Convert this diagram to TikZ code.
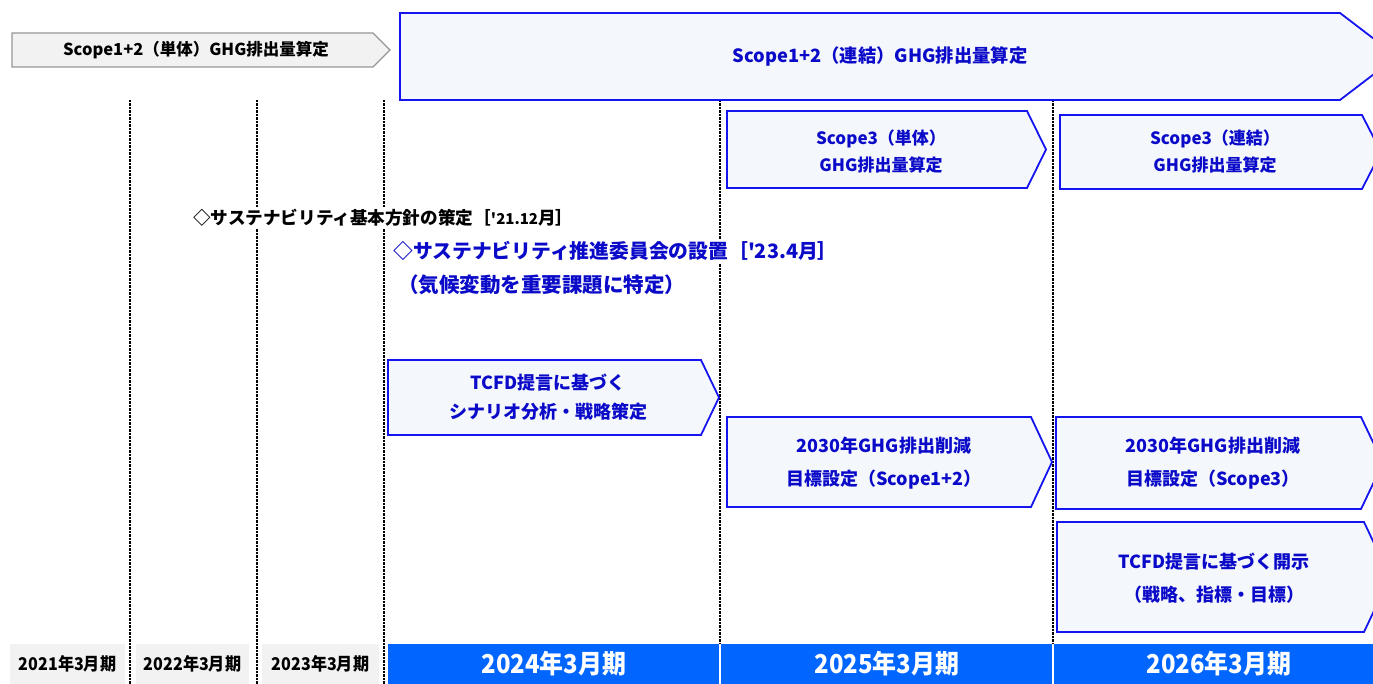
\documentclass[tikz,border=0pt]{standalone}
\usepackage{fontspec}
\newfontfamily\jp{Noto Sans CJK JP}
\newfontfamily\yearfont{Noto Sans CJK JP}[FakeStretch=0.92]
\definecolor{boxfill}{HTML}{F4F7FB}
\definecolor{boxblue}{RGB}{20,20,240}
\definecolor{txtblue}{RGB}{10,10,200}
\definecolor{grayfill}{HTML}{F2F2F2}
\definecolor{graydraw}{RGB}{150,150,150}
\definecolor{barblue}{RGB}{0,102,255}
\newcommand\chev[6]{\draw[#6] (#1,#2) -- (#3,#2) -- (#5,{(#2+#4)/2}) -- (#3,#4) -- (#1,#4) -- cycle;}
\begin{document}
\begin{tikzpicture}[x=1pt,y=-1pt,
  bx/.style={draw=boxblue,line width=1.8pt,fill=boxfill,line join=miter},
  gx/.style={draw=graydraw,line width=1.2pt,fill=grayfill,line join=miter},
  btxt/.style={text=txtblue,font=\jp\bfseries\fontsize{17}{27}\selectfont,align=center,inner sep=0pt},
  bbtxt/.style={text=txtblue,font=\jp\bfseries\fontsize{18}{33}\selectfont,align=center,inner sep=0pt},
  vline/.style={line width=1.1pt,dash pattern=on 2.5pt off 1pt},
  ybox/.style={fill=grayfill,draw=none},
  ytxt/.style={font=\yearfont\bfseries\fontsize{17.5}{20}\selectfont,text=black,inner sep=0pt},
  btbar/.style={fill=barblue,draw=none},
  bytxt/.style={font=\yearfont\bfseries\fontsize{26}{30}\selectfont,text=white,inner sep=0pt}]
\useasboundingbox (0,0) rectangle (1373,684);
\clip (0,0) rectangle (1373,684);
% year bar
\fill[ybox] (10,644) rectangle (125,684);
\fill[ybox] (136,644) rectangle (249,684);
\fill[ybox] (262,644) rectangle (379,684);
\fill[btbar] (388,644) rectangle (719.2,684);
\fill[btbar] (720.8,644) rectangle (1052.2,684);
\fill[btbar] (1053.8,644) rectangle (1373,684);
\node[ytxt] (y21) at (67.5,664) {2021年3月期};
\node[ytxt] (y22) at (192.5,664) {2022年3月期};
\node[ytxt] (y23) at (320.5,664) {2023年3月期};
\node[bytxt] (y24) at (554,664) {2024年3月期};
\node[bytxt] (y25) at (887,664) {2025年3月期};
\node[bytxt] (y26) at (1219,664) {2026年3月期};
% dashed lines
\coordinate (d1t) at (130,100); \coordinate (d1b) at (130,684);
\coordinate (d2t) at (257,100); \coordinate (d2b) at (257,684);
\coordinate (d3t) at (384,100); \coordinate (d3b) at (384,684);
\coordinate (d4t) at (720,100); \coordinate (d4b) at (720,644);
\coordinate (d5t) at (1053,100); \coordinate (d5b) at (1053,644);
\draw[vline] (d1t) -- (d1b);
\draw[vline] (d2t) -- (d2b);
\draw[vline] (d3t) -- (d3b);
\draw[vline] (d4t) -- (d4b);
\draw[vline] (d5t) -- (d5b);
% arrow boxes
\chev{12}{33}{373}{67}{390}{gx}
\chev{400}{13}{1340}{100}{1397}{bx}
\chev{727}{111}{1027}{188}{1046}{bx}
\chev{1060}{115}{1362}{189}{1381}{bx}
\chev{388}{360}{701}{435}{719}{bx}
\chev{727}{417}{1031}{507}{1052}{bx}
\chev{1056}{417}{1361}{509}{1383}{bx}
\chev{1057}{522}{1364}{632}{1390}{bx}
% texts
\node[font=\jp\bfseries\fontsize{16.5}{19}\selectfont,inner sep=0pt] (g12) at (196,50) {Scope1+2（単体）GHG排出量算定};
\node[text=txtblue,font=\jp\bfseries\fontsize{18.3}{21}\selectfont,inner sep=0pt] (c12) at (880,56) {Scope1+2（連結）GHG排出量算定};
\node[btxt] (s3a) at (881,151.5) {Scope3（単体）\\GHG排出量算定};
\node[btxt] (s3b) at (1215,152) {Scope3（連結）\\GHG排出量算定};
\node[btxt,font=\jp\bfseries\fontsize{18}{29}\selectfont] (tcfd1) at (548,397.5) {TCFD提言に基づく\\シナリオ分析・戦略策定};
\node[bbtxt] (t2030a) at (884,463) {2030年GHG排出削減\\目標設定（Scope1+2）};
\node[bbtxt] (t2030b) at (1213,463) {2030年GHG排出削減\\目標設定（Scope3）};
\node[bbtxt] (tcfd2) at (1214,578) {TCFD提言に基づく開示\\（戦略、指標・目標）};
% milestones
\node[anchor=west,fill=white,inner sep=2pt,font=\jp\bfseries\fontsize{17.6}{20}\selectfont] (m1) at (191,218) {◇サステナビリティ基本方針の策定［{\fontsize{15}{16}\selectfont'21.12}月］};
\node[anchor=west,fill=white,inner sep=2pt,text=txtblue,font=\jp\bfseries\fontsize{19.8}{23}\selectfont] (m2) at (391,251) {◇サステナビリティ推進委員会の設置［'23.4月］};
\node[anchor=west,inner sep=2pt,text=txtblue,font=\jp\bfseries\fontsize{20.5}{23}\selectfont] (m3) at (396,285) {（気候変動を重要課題に特定）};
\end{tikzpicture}
\end{document}
